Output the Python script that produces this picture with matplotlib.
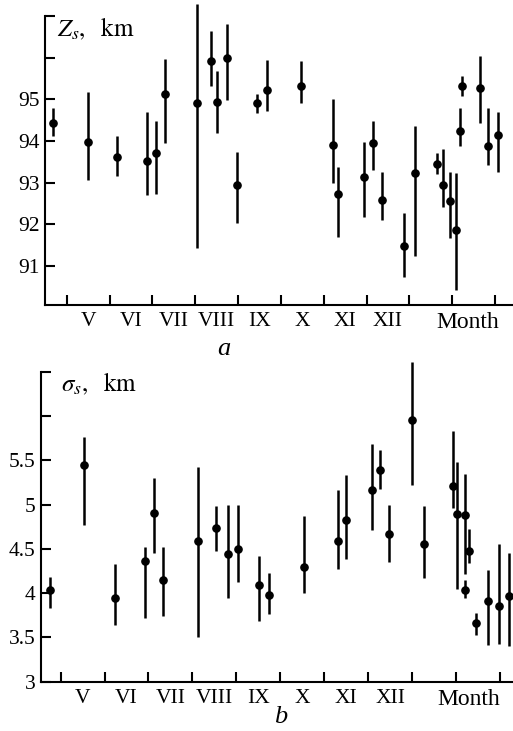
import numpy as np
import matplotlib
matplotlib.use("Agg")
import matplotlib.pyplot as plt
import matplotlib.transforms as mtransforms

plt.rcParams["font.family"] = ["Liberation Serif", "DejaVu Serif"]
plt.rcParams["mathtext.fontset"] = "stix"

# month labels sit between month boundaries
month_names = ["V", "VI", "VII", "VIII", "IX", "X", "XI", "XII"]

# panel a: Z_s, km  (x = fractional month)
za_x = [4.67, 5.49, 6.17, 6.87, 7.08, 7.30, 8.05, 8.36, 8.50, 8.75,
        8.98, 9.44, 9.67, 10.47, 11.22, 11.34, 11.94, 12.16, 12.36, 12.87,
        13.12, 13.64, 13.78, 13.96, 14.10, 14.18, 14.22, 14.65, 14.84, 15.07]
za_y = [94.42, 93.98, 93.62, 93.51, 93.72, 95.12, 94.90, 95.92, 94.93, 96.00,
        92.93, 94.92, 95.22, 95.32, 93.91, 92.73, 93.13, 93.96, 92.57, 91.47,
        93.24, 93.44, 92.95, 92.55, 91.87, 94.24, 95.33, 95.27, 93.87, 94.13]
za_lo = [94.12, 93.07, 93.15, 92.69, 92.73, 93.96, 91.43, 95.32, 94.20, 94.98,
         92.03, 94.66, 94.72, 94.90, 92.99, 91.69, 92.16, 93.30, 92.09, 90.73,
         91.23, 93.21, 92.41, 91.67, 90.41, 93.87, 95.07, 94.44, 93.42, 93.26]
za_hi = [94.80, 95.18, 94.12, 94.70, 94.49, 95.96, 97.30, 96.63, 95.67, 96.82,
         93.73, 95.12, 95.95, 95.92, 95.00, 93.38, 93.98, 94.48, 93.25, 92.27,
         94.36, 93.72, 93.81, 93.25, 93.22, 94.80, 95.56, 96.03, 94.80, 94.70]

# panel b: sigma_s, km
sb_x = [4.76, 5.54, 6.24, 6.92, 7.12, 7.34, 8.13, 8.54, 8.82, 9.04,
        9.51, 9.75, 10.55, 11.32, 11.49, 12.08, 12.28, 12.48, 12.99, 13.28,
        13.94, 14.03, 14.21, 14.30, 14.21, 14.45, 14.74, 14.97, 15.21]
sb_y = [4.04, 5.45, 3.95, 4.36, 4.91, 4.15, 4.59, 4.74, 4.44, 4.50,
        4.09, 3.98, 4.29, 4.59, 4.83, 5.17, 5.39, 4.67, 5.95, 4.56,
        5.21, 4.89, 4.88, 4.48, 4.04, 3.66, 3.91, 3.85, 3.97]
sb_lo = [3.83, 4.77, 3.64, 3.72, 4.45, 3.74, 3.50, 4.48, 3.95, 4.13,
         3.68, 3.77, 4.00, 4.27, 4.38, 4.71, 5.18, 4.35, 5.22, 4.17,
         4.96, 4.05, 4.22, 4.34, 3.94, 3.53, 3.41, 3.43, 3.40]
sb_hi = [4.18, 5.76, 4.33, 4.52, 5.30, 4.52, 5.42, 4.98, 5.00, 4.99,
         4.42, 4.23, 4.87, 5.16, 5.33, 5.68, 5.62, 5.00, 6.61, 4.98,
         5.83, 5.48, 5.34, 4.72, 4.15, 3.78, 4.26, 4.56, 4.45]


def draw_panel(ax, x, y, lo, hi, xlim, ylim, yticks, ylabels, title, title_pos,
               letter, letter_pos, month_x):
    x = np.array(x); y = np.array(y)
    err = [y - np.array(lo), np.array(hi) - y]
    ax.errorbar(x, y, yerr=err, fmt="o", color="black", ms=5.2, elinewidth=1.8,
                capsize=0, clip_on=False)
    ax.set_xlim(*xlim)
    ax.set_ylim(*ylim)
    for s in ["top", "right"]:
        ax.spines[s].set_visible(False)
    for s in ["left", "bottom"]:
        ax.spines[s].set_linewidth(1.5)
    ax.set_yticks(yticks)
    ax.set_yticklabels(ylabels)
    ax.set_xticks(np.arange(5, 16))
    ax.set_xticklabels([])
    ax.set_xticks(np.arange(5.5, 13.5, 1), minor=True)
    ax.set_xticklabels(month_names, minor=True)
    ax.tick_params(axis="both", which="major", direction="in", length=7, width=1.5,
                   labelsize=15.5, pad=4)
    ax.tick_params(axis="x", which="minor", length=0, labelsize=15.5, pad=5)
    ax.annotate("Month", xy=(month_x, 0), xycoords=ax.get_xaxis_transform(),
                xytext=(0, -5), textcoords="offset points",
                ha="center", va="top", fontsize=17)
    ax.text(title_pos[0], title_pos[1], title, transform=ax.transAxes,
            ha="left", va="baseline", fontsize=18)
    trans = mtransforms.blended_transform_factory(ax.transData, ax.transAxes)
    ax.text(letter_pos[0], letter_pos[1], letter, transform=trans, ha="center",
            va="bottom", fontsize=19, style="italic")


fig = plt.figure(figsize=(5.13, 7.31), dpi=100)
ax1 = fig.add_axes([0.0877, 0.5823, 0.9123, 0.3958])
ax2 = fig.add_axes([0.0793, 0.0674, 0.9207, 0.4241])

draw_panel(ax1, za_x, za_y, za_lo, za_hi, (4.49, 15.42), (90.05, 97.0),
           [91, 92, 93, 94, 95, 96, 97], ["91", "92", "93", "94", "95", "", ""],
           r"$Z_s,\ \ \mathrm{km}$", (0.026, 0.928), "a", (8.67, -0.19), 14.37)
draw_panel(ax2, sb_x, sb_y, sb_lo, sb_hi, (4.545, 15.3), (3.0, 6.5),
           [3, 3.5, 4, 4.5, 5, 5.5, 6, 6.5], ["3", "3.5", "4", "4.5", "5", "5.5", "", ""],
           r"$\sigma_s,\ \ \mathrm{km}$", (0.043, 0.935), "b", (10.0, -0.15), 14.29)

fig.savefig("out.png", dpi=100)
